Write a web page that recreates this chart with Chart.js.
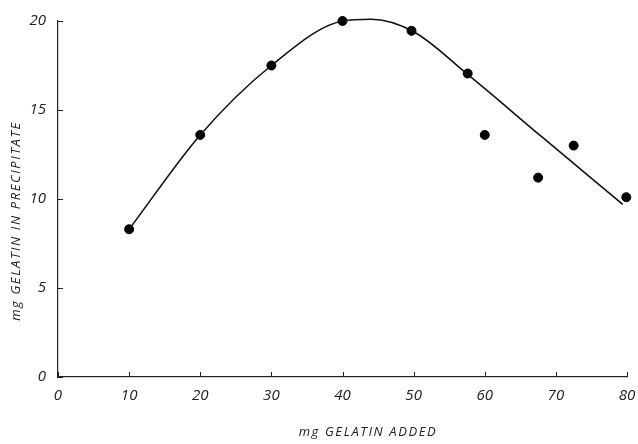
<!DOCTYPE html>
<html>
<head>
<meta charset="utf-8">
<script src="https://cdn.jsdelivr.net/npm/chart.js@4.4.1/dist/chart.umd.min.js"></script>
<style>
  html, body { margin: 0; padding: 0; background: #fff; }
  #wrap { width: 638px; height: 444px; position: relative; }
</style>
</head>
<body>
<div id="wrap"><canvas id="gelatin-chart"></canvas></div>
<script>
// measured points
const addedMg = [10, 20, 30, 40, 49.7, 57.6, 60, 67.5, 72.5, 79.9];
const precipMg = [8.3, 13.6, 17.5, 20.0, 19.45, 17.05, 13.6, 11.2, 13.0, 10.1];

// hand-drawn fitted curve
const curveX = [10, 20, 30, 40, 44, 50, 57.6, 68, 79.4];
const curveY = [8.3, 13.6, 17.5, 20.0, 20.1, 19.4, 17.0, 13.5, 9.7];

const xTicks = [0, 10, 20, 30, 40, 50, 60, 70, 80];
const yTicks = [0, 5, 10, 15, 20];

const tickFont = { family: "'Open Sans', sans-serif", size: 15, style: "italic" };

// inner tick marks + axis titles
const decorations = {
  id: "decorations",
  afterDraw(chart) {
    const { ctx, chartArea, scales } = chart;
    ctx.save();
    ctx.strokeStyle = "#222";
    ctx.lineWidth = 1;
    ctx.beginPath();
    xTicks.forEach(v => {
      const px = Math.round(scales.x.getPixelForValue(v)) + 0.5;
      ctx.moveTo(px, chartArea.bottom);
      ctx.lineTo(px, chartArea.bottom - 5);
    });
    yTicks.forEach(v => {
      const py = Math.round(scales.y.getPixelForValue(v)) + 0.5;
      ctx.moveTo(chartArea.left, py);
      ctx.lineTo(chartArea.left + 5, py);
    });
    ctx.stroke();

    ctx.fillStyle = "#222";
    ctx.font = "italic 13px 'Open Sans', sans-serif";
    ctx.letterSpacing = "1.6px";
    ctx.textAlign = "center";
    ctx.textBaseline = "middle";
    ctx.fillText("mg GELATIN ADDED", 368, 432);

    ctx.translate(16, 221);
    ctx.rotate(-Math.PI / 2);
    ctx.fillText("mg GELATIN IN PRECIPITATE", 0, 0);
    ctx.restore();
  }
};

new Chart(document.getElementById("gelatin-chart"), {
  type: "scatter",
  data: {
    datasets: [
      {
        label: "curve",
        type: "line",
        data: curveX.map((x, i) => ({ x: x, y: curveY[i] })),
        borderColor: "#111",
        borderWidth: 1.6,
        pointRadius: 0,
        fill: false,
        clip: false,
        cubicInterpolationMode: "monotone",
      },
      {
        label: "measured",
        data: addedMg.map((x, i) => ({ x: x, y: precipMg[i] })),
        backgroundColor: "#000",
        borderColor: "#000",
        pointRadius: 4.5,
        pointHoverRadius: 4.5,
        clip: false,
      },
    ],
  },
  options: {
    responsive: true,
    maintainAspectRatio: false,
    animation: false,
    layout: { padding: { top: 19, right: 0, left: 0, bottom: 0 } },
    plugins: {
      legend: { display: false },
      tooltip: { enabled: false },
    },
    scales: {
      x: {
        type: "linear",
        min: 0,
        max: 80,
        afterBuildTicks: s => { s.ticks = xTicks.map(v => ({ value: v })); },
        afterFit: s => { s.height = 67; s.paddingRight = 11; },
        grid: { display: true, drawOnChartArea: false, drawTicks: false },
        border: { display: true, color: "#222", width: 1.2 },
        ticks: { color: "#222", font: tickFont, padding: 10 },
      },
      y: {
        min: 0,
        max: 20,
        afterBuildTicks: s => { s.ticks = yTicks.map(v => ({ value: v })); },
        afterFit: s => { s.width = 58; },
        grid: { display: true, drawOnChartArea: false, drawTicks: false },
        border: { display: true, color: "#222", width: 1.2 },
        ticks: { color: "#222", font: tickFont, padding: 12 },
      },
    },
  },
  plugins: [decorations],
});
</script>
</body>
</html>
